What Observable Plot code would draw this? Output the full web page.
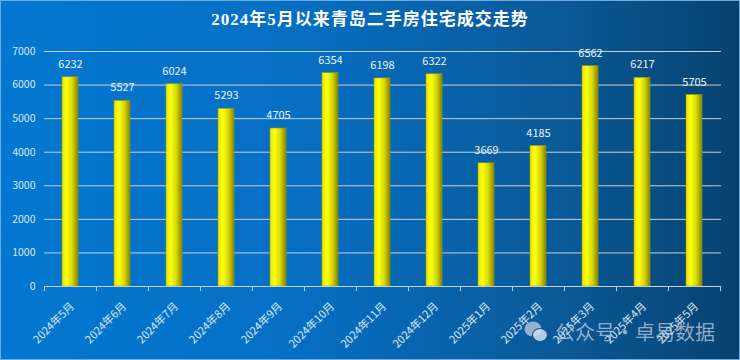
<!DOCTYPE html>
<html><head><meta charset="utf-8">
<script src="https://cdn.jsdelivr.net/npm/d3@7"></script>
<script src="https://cdn.jsdelivr.net/npm/@observablehq/plot@0.6"></script>
<style>
body{margin:0;background:#fff;}
#wrap{position:relative;width:740px;height:360px;overflow:hidden;
 background:linear-gradient(90deg,#0378d0 0%,#066fc4 40%,#0a5a98 75%,#07426f 100%);
 box-shadow:inset 0 0 0 1px #6fa8dc;}
#title{position:absolute;top:8px;left:0;width:740px;text-align:center;color:#fff;
 font-family:'Liberation Serif','Noto Sans CJK SC',serif;font-weight:bold;font-size:17px;letter-spacing:1px;line-height:24px;}
#chart{position:absolute;left:0;top:0;}
#wm{position:absolute;left:524px;top:318px;height:28px;display:flex;align-items:center;gap:7px;
 font-family:'Noto Sans CJK SC',sans-serif;font-size:20px;line-height:28px;color:rgba(200,212,226,0.72);}
</style></head>
<body>
<div id="wrap">
 <div id="chart"></div>
 <div id="title">2024年5月以来青岛二手房住宅成交走势</div>
 <div id="wm">
  <svg width="24" height="24" viewBox="0 0 24 24">
   <ellipse cx="9" cy="9" rx="8.5" ry="7.5" fill="rgba(200,212,226,0.72)"/>
   <ellipse cx="16" cy="15" rx="7.5" ry="6.5" fill="rgba(212,222,234,0.85)" stroke="#0a5a98" stroke-width="1.2"/>
  </svg>
  <span>公众号·卓易数据</span>
 </div>
</div>
<script>
const months = ["2024年5月","2024年6月","2024年7月","2024年8月","2024年9月","2024年10月","2024年11月","2024年12月","2025年1月","2025年2月","2025年3月","2025年4月","2025年5月"];
const volumes = [6232,5527,6024,5293,4705,6354,6198,6322,3669,4185,6562,6217,5705];
const yTicks = [0,1000,2000,3000,4000,5000,6000,7000];

const data = months.map((m,i)=>({month:m, value:volumes[i]}));
const W=740,H=360,ml=44,mr=19,mt=51,mb=74;
const bw=(W-ml-mr)/months.length;
const axisColor="#c6d0da", textColor="#dbe8f5";

const chart = Plot.plot({
  width:W, height:H, marginLeft:ml, marginRight:mr, marginTop:mt, marginBottom:mb,
  style:{background:"transparent", fontFamily:"'Noto Sans CJK SC', sans-serif", overflow:"visible"},
  x:{domain:months, paddingInner:0.69, paddingOuter:0.345, align:0.5, label:null},
  y:{domain:[0,7000], label:null},
  marks:[
    Plot.gridY(yTicks,{stroke:axisColor, strokeOpacity:1, strokeWidth:1}),
    Plot.axisY(yTicks,{tickSize:0, tickPadding:9, fill:textColor, fontSize:10.5, label:null, tickFormat:d=>String(d)}),
    Plot.barY(data,{x:"month", y:"value", fill:"url(#barGrad)", stroke:"#9a9a10", strokeWidth:0.6}),
    Plot.text(data,{x:"month", y:"value", text:d=>String(d.value), dy:-13, fill:"#e8f3ff", fontSize:11, style:"letter-spacing:0.8px"}),
    Plot.ruleY([0],{stroke:axisColor, strokeWidth:1.2}),
    Plot.axisX({tickSize:5, text:null, stroke:axisColor, dx:-bw/2, label:null}),
    Plot.axisX([months[months.length-1]],{tickSize:5, text:null, stroke:axisColor, dx:bw/2, label:null}),
    Plot.axisX({tickSize:0, tickPadding:15, tickRotate:-45, fill:textColor, fontSize:11, dx:2, dy:3, label:null})
  ]
});
const svg = d3.select(chart);
const grad = svg.insert("defs",":first-child").append("linearGradient")
  .attr("id","barGrad").attr("x1","0").attr("x2","1").attr("y1","0").attr("y2","0");
grad.append("stop").attr("offset","0%").attr("stop-color","#e6e600");
grad.append("stop").attr("offset","30%").attr("stop-color","#ffff14");
grad.append("stop").attr("offset","65%").attr("stop-color","#d6d600");
grad.append("stop").attr("offset","100%").attr("stop-color","#848400");
document.getElementById("chart").appendChild(chart);
</script>
</body></html>
